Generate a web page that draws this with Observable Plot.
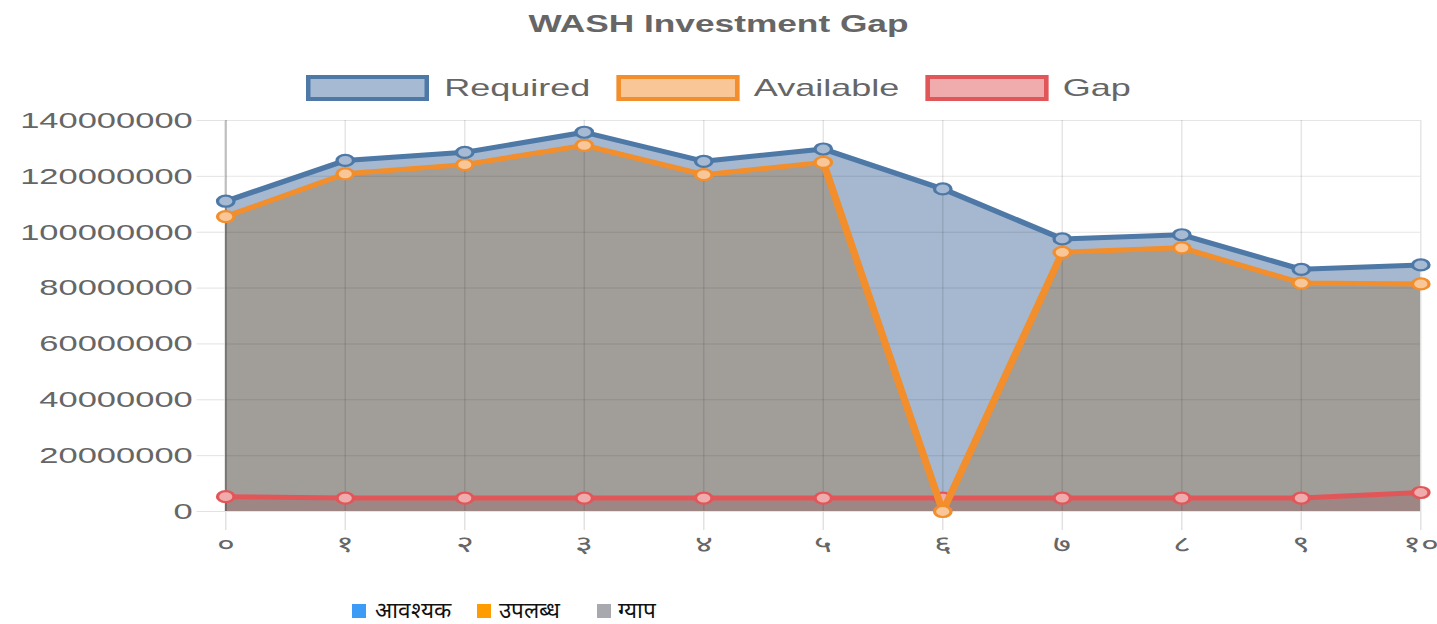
<!DOCTYPE html>
<html>
<head>
<meta charset="utf-8">
<script src="https://cdn.jsdelivr.net/npm/d3@7"></script>
<script src="https://cdn.jsdelivr.net/npm/@observablehq/plot@0.6"></script>
<style>
  html, body { margin: 0; padding: 0; background: #fff; }
  body { width: 1437px; height: 624px; position: relative; overflow: hidden; font-family: "Liberation Sans", Arial, sans-serif; }
  #wrap { position: absolute; left: 0; top: 0; width: 958px; height: 570px; transform: scaleX(1.5); transform-origin: 0 0; }
  #title { position: absolute; left: 0; top: 8px; width: 958px; text-align: center; font-weight: bold; font-size: 23.5px; line-height: 32px; color: #666; }
  #legend { position: absolute; left: 0; top: 75px; width: 958px; height: 26px; display: flex; justify-content: center; align-items: center; }
  .li { display: flex; align-items: center; margin: 0 8.5px; }
  .sw { width: 76px; height: 18px; border-style: solid; border-width: 4px 3px; margin-right: 10px; }
  .lt { font-size: 24px; color: #666; line-height: 26px; }
  #chart { position: absolute; left: 0; top: 100px; }
  #bottom { position: absolute; left: 0; top: 598px; width: 1437px; height: 26px; }
  .bs { position: absolute; top: 6px; width: 14px; height: 14px; }
  .bt { position: absolute; top: 0; font-size: 22.5px; line-height: 26px; color: #111; }
</style>
</head>
<body>
<div id="wrap">
  <div id="title"></div>
  <div id="legend"></div>
  <div id="chart"></div>
</div>
<div id="bottom"></div>
<script>
// ---- data ----
const xLabels = ["०","१","२","३","४","५","६","७","८","९","१०"];
const seriesNames = ["Required", "Available", "Gap"];
const required  = [111100000, 125700000, 128600000, 135800000, 125400000, 129800000, 115500000, 97600000, 99100000, 86700000, 88300000];
const available = [105600000, 120900000, 124200000, 131100000, 120600000, 125000000, 0, 92800000, 94400000, 81800000, 81500000];
const gap       = [5300000, 4800000, 4800000, 4800000, 4800000, 4800000, 4800000, 4800000, 4800000, 4800000, 6800000];
const yTicks = [0, 20000000, 40000000, 60000000, 80000000, 100000000, 120000000, 140000000];
const titleText = "WASH Investment Gap";
const bottomLegend = ["आवश्यक", "उपलब्ध", "ग्याप"];

// ---- styles ----
const lineColors = ["#4e79a7", "#f28e2b", "#e15759"];
const lightColors = ["#a6bad3", "#f8c697", "#f0abac"];
const areaColors = ["#a5b8d0", "#a19e9a", "#9e8685"];
const bottomColors = ["#3b9bf5", "#ff9c00", "#a8a9ae"];

const idx = xLabels.map((_, i) => i);
const data = idx.map(i => ({i, required: required[i], available: available[i], gap: gap[i]}));
const keys = ["required", "available", "gap"];

document.getElementById("title").textContent = titleText;
const leg = document.getElementById("legend");
seriesNames.forEach((n, k) => {
  const li = document.createElement("div"); li.className = "li";
  const sw = document.createElement("div"); sw.className = "sw";
  sw.style.borderColor = lineColors[k]; sw.style.background = lightColors[k];
  const t = document.createElement("span"); t.className = "lt"; t.textContent = n;
  li.appendChild(sw); li.appendChild(t); leg.appendChild(li);
});

const marks = [];
keys.forEach((k, j) => marks.push(Plot.areaY(data, {x: "i", y: k, fill: areaColors[j]})));
marks.push(Plot.ruleY(yTicks, {y: d => d, x1: 0, x2: 10, stroke: "#000", strokeOpacity: 0.1}));
marks.push(Plot.ruleX(idx.slice(1), {x: d => d, y1: 0, y2: 140000000, stroke: "#000", strokeOpacity: 0.1}));
marks.push(Plot.ruleX([0], {x: d => d, y1: 0, y2: 140000000, stroke: "#000", strokeOpacity: 0.25, strokeWidth: 1.5}));
marks.push(Plot.axisY({ticks: yTicks, label: null, tickSize: 19, tickPadding: 3, tickFormat: d => String(d), stroke: "#e2e2e2", fill: "#666", fontSize: 23}));
marks.push(Plot.axisX({ticks: idx, label: null, tickSize: 19, tickPadding: 5, tickFormat: i => xLabels[i], stroke: "#e2e2e2", fill: "#666", fontSize: 23}));
[2, 1, 0].forEach(j => {
  marks.push(Plot.line(data, {x: "i", y: keys[j], stroke: lineColors[j], strokeWidth: 5, strokeLinejoin: "round"}));
  marks.push(Plot.dot(data, {x: "i", y: keys[j], r: 5.5, stroke: lineColors[j], strokeWidth: 2.2, fill: lightColors[j]}));
});

const chart = Plot.plot({
  width: 958, height: 461,
  marginTop: 20, marginBottom: 50, marginLeft: 150, marginRight: 11.3,
  x: {type: "linear", domain: [0, 10], axis: null},
  y: {domain: [0, 140000000], axis: null},
  style: {fontFamily: "Liberation Sans, Arial, sans-serif", color: "#666", background: "transparent", overflow: "visible"},
  marks
});
document.getElementById("chart").appendChild(chart);

const bl = document.getElementById("bottom");
const sqLeft = [352, 477, 597];
const txLeft = [375, 499, 618];
bottomLegend.forEach((n, k) => {
  const s = document.createElement("div"); s.className = "bs";
  s.style.left = sqLeft[k] + "px"; s.style.background = bottomColors[k];
  const t = document.createElement("div"); t.className = "bt";
  t.style.left = txLeft[k] + "px"; t.textContent = n;
  bl.appendChild(s); bl.appendChild(t);
});
</script>
</body>
</html>
